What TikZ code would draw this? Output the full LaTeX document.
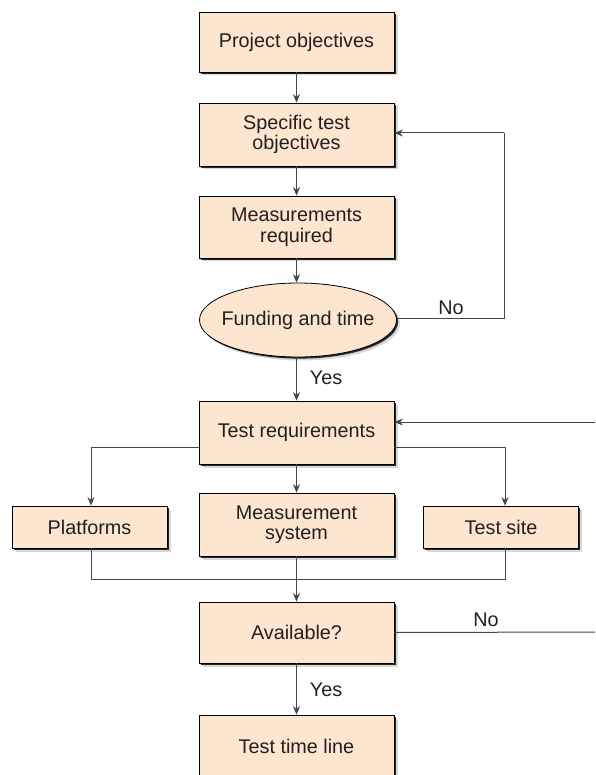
\documentclass[tikz,border=0pt]{standalone}
\usepackage{fontspec}
\setmainfont{Liberation Sans}
\usetikzlibrary{shapes.geometric,arrows.meta,shadows}
\definecolor{boxfill}{HTML}{FCE6CF}
\definecolor{linecol}{HTML}{474747}
\definecolor{txtcol}{HTML}{231F20}
\newcommand{\lblfont}{\fontsize{19.8}{20.5}\selectfont}
\tikzset{
  shade2/.style={
    general shadow={fill=black!30, opacity=0.5, shadow xshift=3.5pt, shadow yshift=-3.5pt},
    general shadow={fill=black!85, shadow xshift=1.6pt, shadow yshift=-1.6pt}},
  box/.style={draw=black, line width=0.8pt, fill=boxfill, text=txtcol,
    minimum width=195pt, align=center, font=\lblfont, inner sep=0pt, shade2},
  smallbox/.style={box, minimum width=155pt, minimum height=42pt},
  oval/.style={ellipse, draw=black, line width=0.8pt, fill=boxfill, text=txtcol,
    minimum width=197pt, minimum height=74pt, font=\lblfont, inner sep=0pt, shade2},
  conn/.style={draw=linecol, line width=1pt},
  arr/.style={conn, -{Stealth[length=8.5pt,width=7pt]}},
  lbl/.style={text=txtcol, font=\lblfont, inner sep=0pt}
}
\begin{document}
\begin{tikzpicture}[x=1pt,y=-1pt]
\useasboundingbox[fill=white] (0,0) rectangle (595,775);
\node[box, minimum height=60pt] (proj) at (296.5,42) {Project objectives};
\node[box, minimum height=63pt] (spec) at (296.5,134.5) {Specific test\\objectives};
\node[box, minimum height=62pt] (meas) at (296.5,227) {Measurements\\required};
\node[oval] (fund) at (298,320) {\makebox[0pt]{Funding and time}};
\node[box, minimum height=63pt] (treq) at (296.5,432.5) {Test requirements};
\node[smallbox] (plat) at (89.5,527) {Platforms};
\node[box, minimum height=63pt] (msys) at (296.5,524.5) {Measurement\\system};
\node[smallbox] (tsite) at (501,527) {Test site};
\node[box, minimum height=61pt] (avail) at (296.5,632.5) {Available?};
\node[box, minimum height=62pt] (ttl) at (296.5,746) {Test time line};

\node[lbl] (no1) at (451,308) {No};
\node[lbl] (yes1) at (326,378) {Yes};
\node[lbl] (no2) at (486,620) {No};
\node[lbl] (yes2) at (326,690) {Yes};

\coordinate (fbx) at (504,318);
\coordinate (fby) at (504,133);
\coordinate (rin) at (595,422);
\coordinate (rout) at (595,632);
\coordinate (bl) at (91,447);
\coordinate (br) at (505,447);
\coordinate (jl) at (91,579);
\coordinate (jr) at (505,579);

\draw[arr] (proj) -- (spec);
\draw[arr] (spec) -- (meas);
\draw[arr] (meas) -- (meas |- fund.north);
\draw[conn] (fund.east |- fbx) -- (fbx) -- (fby);
\draw[arr] (fby) -- (spec.east |- fby);
\draw[arr] (meas |- fund.south) -- (treq);
\draw[arr] (rin) -- (treq.east |- rin);
\draw[arr] (treq.west |- bl) -- (bl) -- (bl |- plat.north);
\draw[arr] (treq.east |- br) -- (br) -- (br |- tsite.north);
\draw[arr] (treq) -- (msys);
\draw[conn] (jl |- plat.south) -- (jl) -- (jr) -- (jr |- tsite.south);
\draw[arr] (msys) -- (avail);
\draw[conn] (avail.east) -- (rout);
\draw[arr] (avail) -- (ttl);
\end{tikzpicture}
\end{document}
